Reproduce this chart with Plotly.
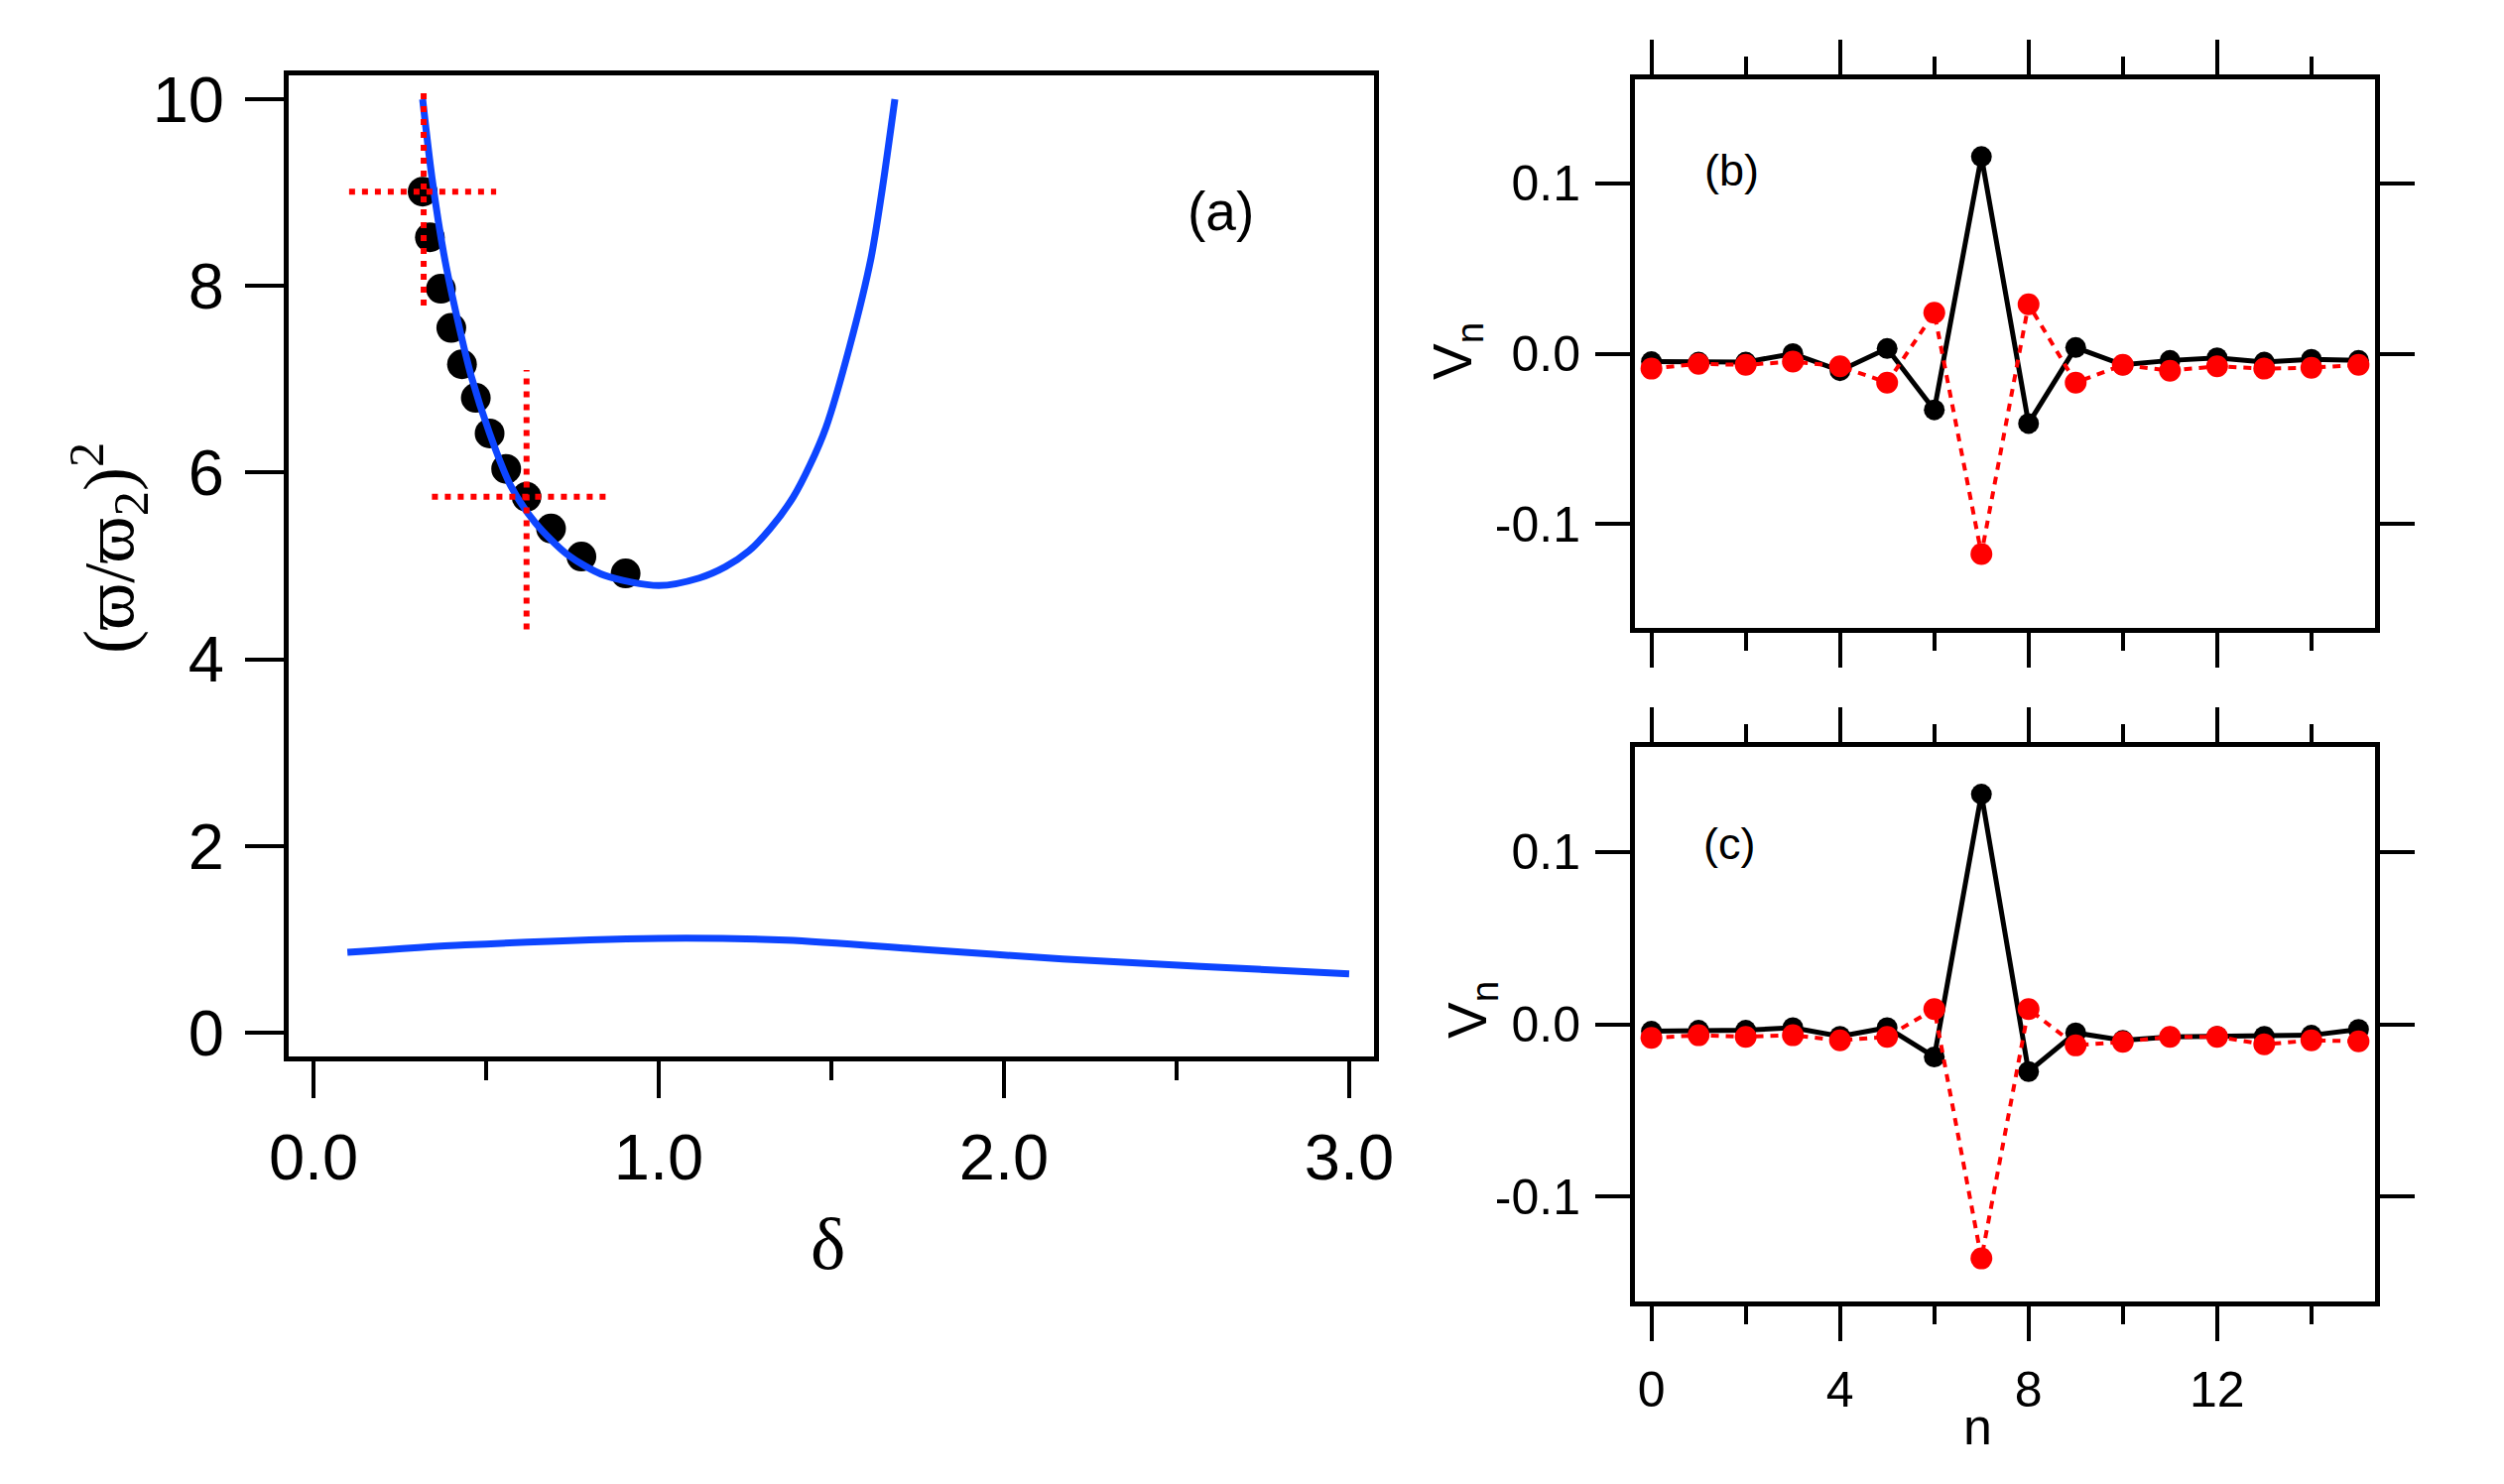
import plotly.graph_objects as go

W, H = 2524, 1496

# ---------------- panel (a) data ----------------
upper_delta = [0.316, 0.343, 0.377, 0.417, 0.457, 0.51, 0.571, 0.643, 0.736, 0.842,
               1.0, 1.117, 1.193, 1.261, 1.323, 1.39, 1.438, 1.484, 1.553, 1.615, 1.648, 1.684]
upper_w2 = [10.0, 9.16, 8.35, 7.64, 7.03, 6.42, 5.86, 5.46, 5.12, 4.90,
            4.79, 4.87, 4.99, 5.16, 5.40, 5.74, 6.08, 6.48, 7.35, 8.30, 9.05, 10.0]
lower_delta = [0.098, 0.44, 1.0, 1.37, 1.77, 2.17, 2.57, 3.0]
lower_w2 = [0.86, 0.94, 1.01, 0.99, 0.89, 0.79, 0.71, 0.63]
dots_delta = [0.316, 0.337, 0.369, 0.399, 0.430, 0.470, 0.510, 0.558, 0.617, 0.688, 0.776, 0.904]
dots_w2 = [9.01, 8.52, 7.97, 7.55, 7.16, 6.80, 6.42, 6.04, 5.74, 5.40, 5.10, 4.92]
# dotted cross-hairs: (centre delta, centre w2, delta-left, delta-right, w2-low, w2-high)
cross1 = [0.319, 9.01, 0.103, 0.529, 7.79, 10.12]
cross2 = [0.617, 5.74, 0.343, 0.861, 4.32, 7.10]
a_xticks = [0, 1, 2, 3]
a_xticktext = ["0.0", "1.0", "2.0", "3.0"]
a_xminor = [0.5, 1.5, 2.5]
a_yticks = [0, 2, 4, 6, 8, 10]

# ---------------- panels (b),(c) data ----------------
n = list(range(16))
b_black = [-0.0047, -0.005, -0.005, 0.0, -0.010, 0.003, -0.033, 0.1157, -0.041, 0.0036,
           -0.0066, -0.004, -0.0025, -0.005, -0.0033, -0.004]
b_red = [-0.0088, -0.006, -0.0066, -0.0047, -0.0074, -0.017, 0.024, -0.1176, 0.029, -0.017,
         -0.0066, -0.010, -0.0074, -0.0088, -0.0083, -0.0066]
c_black = [-0.0041, -0.0035, -0.0035, -0.002, -0.007, -0.002, -0.019, 0.1336, -0.0275, -0.005,
           -0.0094, -0.0073, -0.007, -0.007, -0.0064, -0.003]
c_red = [-0.0079, -0.0064, -0.0073, -0.0064, -0.0094, -0.0073, 0.0088, -0.136, 0.0088, -0.0123,
         -0.0102, -0.0073, -0.0073, -0.0117, -0.0094, -0.0099]
n_ticks = [0, 4, 8, 12]
n_minor = [2, 6, 10, 14]
v_ticks = [-0.1, 0.0, 0.1]
v_ticktext = ["-0.1", "0.0", "0.1"]

BLUE = "#0d45ff"
RED = "#ff0000"
SANS = "Liberation Sans, Arial, sans-serif"
SERIF = "Liberation Serif, Times New Roman, serif"


def px(x):
    return x / W


def py(y):
    return 1 - y / H


fig = go.Figure()

# panel (a)
fig.add_trace(go.Scatter(x=dots_delta, y=dots_w2, mode="markers",
                         marker=dict(color="black", size=30), xaxis="x", yaxis="y"))
fig.add_trace(go.Scatter(x=upper_delta, y=upper_w2, mode="lines",
                         line=dict(color=BLUE, width=7, shape="spline", smoothing=0.8),
                         xaxis="x", yaxis="y"))
fig.add_trace(go.Scatter(x=lower_delta, y=lower_w2, mode="lines",
                         line=dict(color=BLUE, width=7, shape="spline", smoothing=0.8),
                         xaxis="x", yaxis="y"))
for c in (cross1, cross2):
    fig.add_trace(go.Scatter(x=[c[2], c[3]], y=[c[1], c[1]], mode="lines",
                             line=dict(color=RED, width=6, dash="6px,7px"), xaxis="x", yaxis="y"))
    fig.add_trace(go.Scatter(x=[c[0], c[0]], y=[c[4], c[5]], mode="lines",
                             line=dict(color=RED, width=6, dash="6px,7px"), xaxis="x", yaxis="y"))

# panel (b)
fig.add_trace(go.Scatter(x=n, y=b_black, mode="lines+markers",
                         line=dict(color="black", width=5), marker=dict(color="black", size=21),
                         xaxis="x2", yaxis="y2"))
fig.add_trace(go.Scatter(x=n, y=b_red, mode="lines+markers",
                         line=dict(color=RED, width=4, dash="8px,7px"), marker=dict(color=RED, size=22),
                         xaxis="x2", yaxis="y2"))
# panel (c)
fig.add_trace(go.Scatter(x=n, y=c_black, mode="lines+markers",
                         line=dict(color="black", width=5), marker=dict(color="black", size=21),
                         xaxis="x3", yaxis="y3"))
fig.add_trace(go.Scatter(x=n, y=c_red, mode="lines+markers",
                         line=dict(color=RED, width=4, dash="8px,7px"), marker=dict(color=RED, size=22),
                         xaxis="x3", yaxis="y3"))

common = dict(showgrid=False, zeroline=False, showline=True, linecolor="black", linewidth=5,
              ticks="outside", tickcolor="black", tickwidth=4, automargin=False)

fig.update_layout(
    width=W, height=H, margin=dict(l=0, r=0, t=0, b=0, autoexpand=False),
    paper_bgcolor="white", plot_bgcolor="white", showlegend=False,
    xaxis=dict(**common, domain=[px(283), px(1377)], range=[-0.072, 3.072], anchor="y",
               tickvals=a_xticks, ticktext=a_xticktext, ticklen=37, mirror=True,
               tickfont=dict(family=SANS, size=65, color="black"), ticklabelstandoff=4,
               minor=dict(tickvals=a_xminor, ticklen=19, tickwidth=4, ticks="outside", tickcolor="black")),
    yaxis=dict(**common, domain=[py(1057), py(68)], range=[-0.255, 10.255], anchor="x",
               tickvals=a_yticks, ticklen=39, mirror=True,
               tickfont=dict(family=SANS, size=65, color="black"), ticklabelstandoff=8),
    xaxis2=dict(**common, domain=[px(1640), px(2386)], range=[-0.35, 15.35], anchor="y2",
                tickvals=n_ticks, showticklabels=False, ticklen=35, mirror="allticks",
                minor=dict(tickvals=n_minor, ticklen=18, tickwidth=4, ticks="outside", tickcolor="black")),
    yaxis2=dict(**common, domain=[py(625), py(72)], range=[-0.161, 0.161], anchor="x2",
                tickvals=v_ticks, ticktext=v_ticktext, ticklen=35, mirror="allticks",
                tickfont=dict(family=SANS, size=50, color="black"), ticklabelstandoff=5),
    xaxis3=dict(**common, domain=[px(1640), px(2386)], range=[-0.35, 15.35], anchor="y3",
                tickvals=n_ticks, ticklen=35, mirror="allticks",
                tickfont=dict(family=SANS, size=50, color="black"), ticklabelstandoff=6,
                minor=dict(tickvals=n_minor, ticklen=18, tickwidth=4, ticks="outside", tickcolor="black")),
    yaxis3=dict(**common, domain=[py(1304), py(745)], range=[-0.161, 0.161], anchor="x3",
                tickvals=v_ticks, ticktext=v_ticktext, ticklen=35, mirror="allticks",
                tickfont=dict(family=SANS, size=50, color="black"), ticklabelstandoff=5),
)

ann = [
    dict(text="(a)", x=px(1222), y=py(205), font=dict(family=SANS, size=55)),
    dict(text="δ", x=px(826), y=py(1245), font=dict(family=SERIF, size=75)),
    dict(text="(ϖ/ϖ<sub>2</sub>)<sup>2</sup>", x=px(102), y=py(545), textangle=-90,
         font=dict(family=SERIF, size=72)),
    dict(text="(b)", x=px(1737), y=py(163), font=dict(family=SANS, size=45)),
    dict(text="(c)", x=px(1735), y=py(842), font=dict(family=SANS, size=45)),
    dict(text="V<sub>n</sub>", x=px(1460), y=py(346), textangle=-90, font=dict(family=SANS, size=55)),
    dict(text="V<sub>n</sub>", x=px(1475), y=py(1010), textangle=-90, font=dict(family=SANS, size=55)),
    dict(text="n", x=px(1985), y=py(1430), font=dict(family=SANS, size=52)),
]
for a in ann:
    a.update(xref="paper", yref="paper", showarrow=False, xanchor="center", yanchor="middle")
    a["font"]["color"] = "black"
fig.update_layout(annotations=ann)

fig.write_html("out.html")
